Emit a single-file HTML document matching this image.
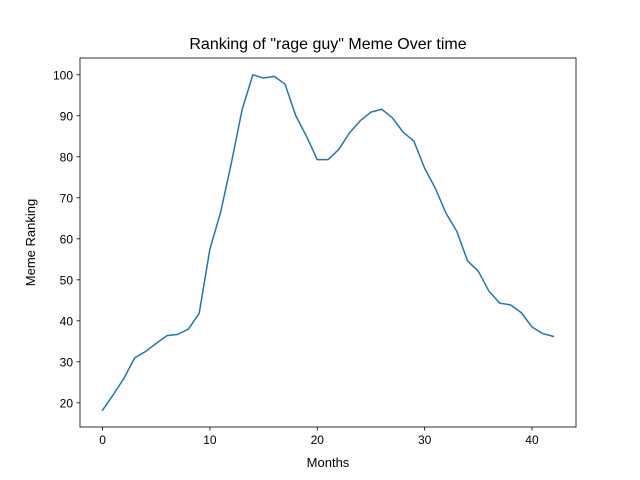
<!DOCTYPE html>
<html><head><meta charset="utf-8"><style>
body{margin:0;background:#fff}
svg{display:block;font-family:"Liberation Sans","DejaVu Sans",sans-serif}
</style></head><body>
<svg id="chart" width="640" height="480">
<rect width="640" height="480" fill="#fff"/>
</svg>
<script>
const months = [0,1,2,3,4,5,6,7,8,9,10,11,12,13,14,15,16,17,18,19,20,21,22,23,24,25,26,27,28,29,30,31,32,33,34,35,36,37,38,39,40,41,42];
const ranking = [18.2,22,26,31,32.5,34.5,36.4,36.7,38,41.8,57.5,66.5,78.5,91.5,100,99.2,99.6,97.7,90,85,79.3,79.3,81.8,85.8,88.8,90.9,91.6,89.5,86,83.8,77.2,72.3,66.2,61.8,54.6,52.1,47.2,44.3,43.9,42,38.5,36.9,36.2];
const xTicks = [0,10,20,30,40];
const yTicks = [20,30,40,50,60,70,80,90,100];

const L=80,R=576,T=58,B=427;
const xmin=Math.min(...months),xmax=Math.max(...months);
const ymin=Math.min(...ranking),ymax=Math.max(...ranking);
const xpad=(xmax-xmin)*0.05,ypad=(ymax-ymin)*0.05;
const x0=xmin-xpad,x1=xmax+xpad,y0=ymin-ypad,y1=ymax+ypad;
const sx=v=>L+(v-x0)/(x1-x0)*(R-L);
const sy=v=>B-(v-y0)/(y1-y0)*(B-T);
const svg=document.getElementById('chart');
const NS='http://www.w3.org/2000/svg';
function mk(tag,attrs,text){const e=document.createElementNS(NS,tag);for(const k in attrs)e.setAttribute(k,attrs[k]);if(text!==undefined)e.textContent=text;svg.appendChild(e);return e;}

const line=mk('polyline',{points:months.map((m,i)=>sx(m)+','+sy(ranking[i])).join(' '),fill:'none',stroke:'#1f77b4','stroke-width':1.5,'stroke-linejoin':'round','stroke-linecap':'square'});



const frame=mk('rect',{x:L,y:T,width:R-L,height:B-T,fill:'none',stroke:'#000','stroke-width':0.8});



xTicks.forEach(t=>{
  const X=sx(t);
  const tk=mk('line',{x1:X,x2:X,y1:B,y2:B+3.5,stroke:'#000','stroke-width':0.8});
  
  
  const lb=mk('text',{x:X,y:B+17,'text-anchor':'middle','font-size':12,fill:'#000'},t);
  
  
});
yTicks.forEach(t=>{
  const Y=sy(t);
  const tk=mk('line',{x1:L-3.5,x2:L,y1:Y,y2:Y,stroke:'#000','stroke-width':0.8});
  
  
  const lb=mk('text',{x:L-7,y:Y+4.5,'text-anchor':'end','font-size':12,fill:'#000'},t);
  
  
});
const title=mk('text',{x:(L+R)/2,y:49,'text-anchor':'middle','font-size':16,fill:'#000'},'Ranking of "rage guy" Meme Over time');


const xt=mk('text',{x:(L+R)/2,y:467,'text-anchor':'middle','font-size':13,fill:'#000'},'Months');


const yt=mk('text',{x:35,y:(T+B)/2,'text-anchor':'middle','font-size':13,fill:'#000',transform:'rotate(-90 35 '+((T+B)/2)+')'},'Meme Ranking');


</script>
</body></html>
